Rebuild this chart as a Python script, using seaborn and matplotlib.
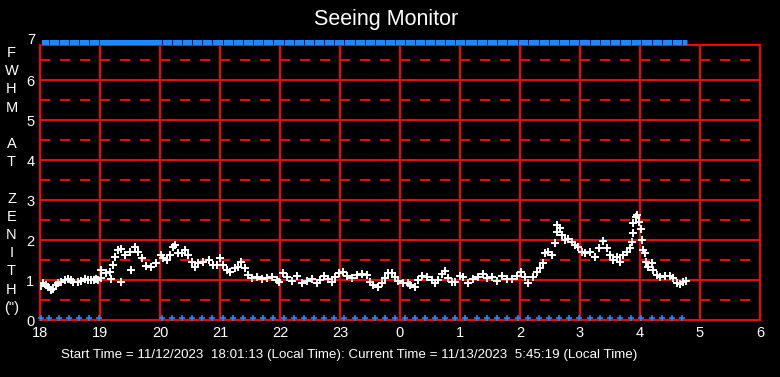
import matplotlib
matplotlib.use("Agg")
import matplotlib.pyplot as plt
import seaborn as sns

# minutes after 18:00 and FWHM at zenith (arcsec)
seeing_minutes = [
    1, 3, 6, 8, 11, 13, 16, 18, 21, 25, 28, 31, 33, 38, 41, 45, 48, 51, 54, 56, 58, 61,
    61, 66, 70, 73, 75, 78, 81, 85, 90, 95, 98, 102, 106, 111, 116, 121,
    71, 81, 91,
    123, 127, 130, 133, 135, 138, 142, 145, 148, 152, 155, 158, 163, 169, 173, 177,
    180, 183, 187, 190, 195, 198, 201, 205, 208, 212, 217, 222, 227, 232, 237, 239,
    243, 247, 252, 257, 262, 267, 272, 277, 280, 284, 288, 292, 295, 299, 303, 307,
    312, 317, 322, 327, 330, 333, 338, 342, 345, 348, 352, 355, 358, 363, 368,
    370, 375, 378, 382, 387, 392, 395, 398, 402, 405, 408, 412, 415, 420, 423, 428,
    433, 438, 443, 447, 452, 457, 462, 467, 472, 477, 481, 485, 488,
    493, 497, 500, 503, 505, 508, 512, 515, 517, 517, 520, 522, 525, 528, 532, 535,
    538, 542, 545, 550, 555, 559, 563, 567, 570, 573, 577, 580, 583, 587, 590, 592,
    593, 593, 596, 597, 599, 601, 602, 603, 605, 606, 608, 612, 613, 617, 620, 625,
    630, 633, 637, 640, 643, 646,
]
seeing_fwhm = [
    0.85, 0.92, 0.87, 0.83, 0.75, 0.78, 0.87, 0.92, 0.96, 1.00, 1.02, 1.00, 0.96, 0.96, 0.98, 1.02, 1.00, 1.00, 0.99, 1.02, 1.00, 1.04,
    1.25, 1.18, 1.21, 1.37, 1.57, 1.75, 1.77, 1.62, 1.71, 1.83, 1.71, 1.54, 1.35, 1.33, 1.42, 1.62,
    1.02, 0.95, 1.25,
    1.54, 1.50, 1.62, 1.83, 1.87, 1.67, 1.67, 1.75, 1.62, 1.46, 1.32, 1.42, 1.46, 1.50, 1.37, 1.37,
    1.54, 1.37, 1.25, 1.21, 1.29, 1.33, 1.46, 1.29, 1.12, 1.04, 1.08, 1.02, 1.04, 1.08, 1.00, 0.96,
    1.17, 1.08, 0.98, 1.10, 0.93, 0.98, 1.02, 0.92, 1.00, 1.10, 1.02, 0.96, 1.08, 1.18, 1.21, 1.10,
    1.04, 1.12, 1.15, 1.12, 0.96, 0.87, 0.83, 0.92, 1.04, 1.17, 1.18, 1.08, 0.98, 0.93, 0.92,
    0.87, 0.82, 1.00, 1.10, 1.08, 1.00, 0.92, 1.00, 1.15, 1.23, 1.04, 0.96, 0.96, 1.10, 1.08, 0.93,
    1.02, 1.08, 1.15, 1.04, 1.07, 0.98, 1.10, 1.02, 1.02, 1.10, 1.21, 1.08, 0.93,
    1.08, 1.21, 1.29, 1.42, 1.67, 1.71, 1.62, 1.92, 2.21, 2.37, 2.29, 2.12, 2.00, 2.02, 1.96, 1.87,
    1.83, 1.71, 1.67, 1.71, 1.58, 1.79, 1.98, 1.79, 1.62, 1.50, 1.57, 1.46, 1.62, 1.71, 1.79, 1.96,
    2.17, 2.42, 2.58, 2.62, 2.46, 2.27, 2.00, 1.75, 1.67, 1.46, 1.33, 1.42, 1.25, 1.12, 1.07, 1.10,
    1.10, 1.04, 0.92, 0.90, 0.96, 0.98,
]

# blue status marks along the bottom, minutes after 18:00
bottom_minutes = [
    1, 9, 19, 29, 39, 49, 59, 122, 132, 142, 152, 162, 172, 183, 193, 203, 213, 223,
    233, 244, 254, 264, 274, 284, 294, 304, 315, 325, 335, 345, 355, 365, 375, 385,
    395, 405, 415, 425, 437, 447, 457, 467, 478, 488, 499, 509, 519, 529, 539, 550,
    560, 570, 580, 591, 601, 612, 622, 632, 642,
]
bottom_level = 0.05
top_span_minutes = [1, 647]
top_level = 6.94

hour_ticks = list(range(18, 31))
hour_labels = [str(h % 24) for h in hour_ticks]
fwhm_ticks = [0, 1, 2, 3, 4, 5, 6]
ylabel_letters = ["F", "W", "H", "M", "", "A", "T", "", "Z", "E", "N", "I", "T", "H", '(")']
title = "Seeing Monitor"
footer = ("Start Time = 11/12/2023  18:01:13 (Local Time): "
          "Current Time = 11/13/2023  5:45:19 (Local Time)")

RED = "#ff0000"
BLUE = "#1e88ff"

sns.set_theme(style="dark")
plt.rcParams["font.family"] = ["Liberation Sans", "DejaVu Sans"]

fig = plt.figure(figsize=(7.8, 3.77), dpi=100, facecolor="black")
ax = fig.add_axes([40 / 780, 57 / 377, 720 / 780, 275 / 377])
ax.set_facecolor("black")

to_hours = lambda mins: [18 + m / 60 for m in mins]

# grid
for h in hour_ticks[1:-1]:
    ax.axvline(h, color=RED, lw=1.44, zorder=1)
for v in fwhm_ticks[1:]:
    ax.axhline(v, color=RED, lw=1.44, zorder=1)
for v in [0.5, 1.5, 2.5, 3.5, 4.5, 5.5, 6.5]:
    ax.axhline(v, color=RED, lw=1.44, linestyle=(0, (5, 5)), zorder=1)

sns.scatterplot(x=to_hours(seeing_minutes), y=seeing_fwhm, marker="+", s=28,
                color="white", linewidth=1.4, ax=ax, zorder=5)
sns.scatterplot(x=to_hours(bottom_minutes), y=[bottom_level] * len(bottom_minutes),
                marker="+", s=22, color=BLUE, linewidth=1.2, ax=ax, zorder=6,
                clip_on=False)
ax.plot(to_hours(top_span_minutes), [top_level] * 2, color=BLUE, lw=3.6,
        solid_capstyle="butt", clip_on=False, zorder=6)
ax.plot(to_hours(bottom_minutes), [top_level] * len(bottom_minutes), linestyle="",
        marker="|", markersize=4, mew=0.6, color="black", clip_on=False, zorder=7)

ax.set_xlim(18, 30)
ax.set_ylim(0, 6.875)
ax.set_xticks(hour_ticks)
ax.set_xticklabels(hour_labels)
ax.set_yticks(fwhm_ticks)
ax.set_yticklabels([str(v) for v in fwhm_ticks])
ax.tick_params(length=0, colors="white", labelsize=10.5, pad=4)
ax.text(-0.007, 7, "7", transform=ax.get_yaxis_transform(), ha="right",
        va="center", color="white", fontsize=10.5)
for s in ax.spines.values():
    s.set_color(RED)
    s.set_linewidth(1.44)
    s.set_visible(True)
ax.grid(False)

for i, ch in enumerate(ylabel_letters):
    fig.text(11.5 / 780, 1 - (53 + i * 18.2) / 377, ch, ha="center", va="center",
             color="white", fontsize=10.5)

fig.text(386 / 780, 1 - 20 / 377, title, ha="center", va="center", color="white",
         fontsize=15.5)
fig.text(349 / 780, 1 - 355 / 377, footer, ha="center", va="center", color="white",
         fontsize=9.6)

fig.savefig("out.png", dpi=100, facecolor="black")
